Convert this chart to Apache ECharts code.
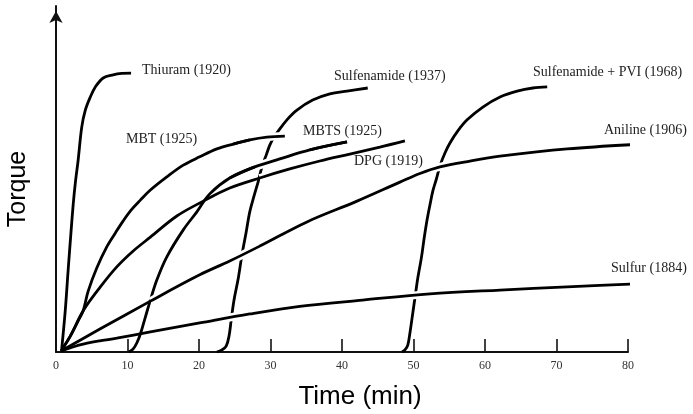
<!DOCTYPE html>
<html>
<head>
<meta charset="utf-8">
<script src="https://cdn.jsdelivr.net/npm/echarts/dist/echarts.min.js"></script>
<style>
  html, body { margin: 0; padding: 0; background: #fff; }
  #chart { width: 693px; height: 414px; }
</style>
</head>
<body>
<div id="chart"></div>
<script>
// Cure curves: [time (min), torque (relative units)]
const sulfur = [[0.7,0.3],[3.8,2.3],[8.5,4.0],[13.2,5.8],[20.1,8.4],[27.1,11.0],[34.1,13.2],[42.9,15.0],[52.3,16.8],[62.1,17.9],[71.5,18.8],[83.1,19.9]];
const aniline = [[0.7,0.3],[6.2,6.7],[13.2,14.7],[20.1,22.3],[24.3,26.3],[28.5,30.6],[35.1,37.6],[42.1,43.6],[48.1,49.1],[50.9,51.6],[53.7,53.5],[57.9,55.2],[62.1,56.6],[71.5,58.7],[82.1,60.1]];
const dpg = [[0.7,0.3],[2.0,4.6],[3.8,11.9],[6.2,18.8],[8.5,24.6],[10.8,29.2],[13.2,33.2],[16.9,39.3],[20.6,43.6],[24.3,47.4],[28.5,50.3],[32.7,52.9],[36.9,55.2],[41.1,57.2],[45.3,59.2],[48.8,61.0]];
const thiuram = [[0.8,0.9],[1.3,12.1],[1.7,23.7],[2.1,34.7],[2.4,42.5],[2.7,48.8],[3.1,55.5],[3.6,65.0],[4.1,69.9],[4.8,73.7],[5.5,76.6],[6.6,79.2],[8.0,80.1],[9.2,80.5],[10.5,80.6]];
const mbt = [[0.7,0.3],[2.0,4.6],[3.1,9.0],[3.8,11.9],[4.5,17.6],[5.7,24.3],[7.1,30.4],[8.3,34.4],[9.4,37.9],[10.5,41.0],[11.8,43.9],[13.2,46.8],[15.5,50.6],[17.8,54.0],[20.1,56.4],[22.5,58.7],[24.8,60.1],[27.1,61.3],[29.5,62.1],[32.0,62.4]];
const mbts = [[10.2,0],[10.8,0.9],[11.3,2.6],[11.8,5.2],[12.5,10.1],[13.2,15.0],[14.1,20.8],[15.5,27.5],[17.8,35.3],[19.7,40.5],[21.5,45.7],[24.3,50.3],[27.8,53.5],[31.3,55.8],[35.5,58.4],[40.7,60.7]];
const sulfenamide = [[22.5,0],[23.2,0.6],[23.8,1.7],[24.2,4.6],[24.5,9.2],[24.9,15.0],[25.5,21.4],[26.0,28.0],[26.6,34.7],[27.1,40.5],[27.7,45.1],[28.3,49.4],[28.8,53.5],[29.4,56.9],[29.9,59.8],[30.5,62.1],[31.1,63.9],[32.3,67.1],[33.7,69.9],[35.9,72.8],[38.3,74.6],[40.7,75.4],[43.6,76.3]];
const sulfenamidePvi = [[48.4,0],[48.8,0.6],[49.2,2.0],[49.5,5.5],[49.8,9.8],[50.2,15.6],[50.6,21.4],[51.1,27.2],[51.5,33.0],[51.9,38.2],[52.3,42.5],[52.7,46.5],[53.2,50.0],[53.7,53.8],[54.4,57.5],[55.1,60.4],[56.2,63.9],[57.5,67.1],[59.7,70.8],[62.1,73.7],[64.5,75.4],[66.7,76.3],[68.7,76.6]];

// Curve labels
const curveLabels = ['Thiuram (1920)', 'MBT (1925)', 'Sulfenamide (1937)', 'MBTS (1925)', 'DPG (1919)', 'Sulfenamide + PVI (1968)', 'Aniline (1906)', 'Sulfur (1884)'];
const xTitle = 'Time (min)';
const yTitle = 'Torque';

const chart = echarts.init(document.getElementById('chart'), null, { renderer: 'canvas' });

const INK = '#000';
const LINE_W = 2.8;

function curve(name, data, z) {
  return {
    name, type: 'line', data, z, smooth: 0.35, showSymbol: false, symbol: 'none',
    clip: false, silent: true, animation: false,
    lineStyle: { color: INK, width: LINE_W }
  };
}
// white casing so that flatter curves appear to pass over the steep ones
function casing(data, from, to, z) {
  return {
    type: 'line', data: data.filter(p => p[0] >= from && p[0] <= to), z,
    smooth: 0.35, showSymbol: false, symbol: 'none', clip: false, silent: true, animation: false,
    lineStyle: { color: '#fff', width: 8 }
  };
}

const labelFont = { fontFamily: 'Liberation Serif', fontSize: 14, fill: '#222' };
function label(text, x, y) {
  return { type: 'text', left: x, top: y - 8, style: Object.assign({ text }, labelFont), silent: true, z: 10 };
}

chart.setOption({
  animation: false,
  backgroundColor: '#fff',
  grid: { left: 56, right: 65, top: 6, bottom: 62 },
  xAxis: {
    type: 'value', min: 0, max: 80, interval: 10,
    axisLine: { show: true, lineStyle: { color: '#111', width: 2 } },
    axisTick: { show: true, inside: true, length: 13, lineStyle: { color: '#111', width: 1.6 } },
    axisLabel: { fontFamily: 'Liberation Serif', fontSize: 12, color: '#333', margin: 8 },
    splitLine: { show: false }
  },
  yAxis: {
    type: 'value', min: 0, max: 100,
    axisLine: { show: true, symbol: ['none', 'arrow'], symbolSize: [10, 12], symbolOffset: [0, -5],
      lineStyle: { color: '#111', width: 2 } },
    axisTick: { show: false }, axisLabel: { show: false }, splitLine: { show: false }
  },
  series: [
    curve('Thiuram', thiuram, 2),
    curve('MBT', mbt, 2),
    curve('MBTS', mbts, 2),
    curve('Sulfenamide', sulfenamide, 2),
    curve('Sulfenamide + PVI', sulfenamidePvi, 2),
    casing(sulfur, 9, 60, 3),
    casing(aniline, 11, 60, 3),
    casing(dpg, 25, 36, 3),
    casing(mbts, 25, 36, 3),
    casing(mbt, 26, 33, 3),
    curve('Sulfur', sulfur, 4),
    curve('Aniline', aniline, 4),
    curve('DPG', dpg, 4),
    Object.assign(curve('MBTS top', mbts.filter(p => p[0] >= 24), 4)),
    Object.assign(curve('MBT top', mbt.filter(p => p[0] >= 24), 4))
  ],
  graphic: [
    label(curveLabels[0], 142, 71),
    label(curveLabels[1], 126, 140),
    label(curveLabels[2], 334, 77),
    label(curveLabels[3], 303, 132),
    label(curveLabels[4], 354, 162),
    label(curveLabels[5], 533, 73),
    label(curveLabels[6], 604, 131),
    label(curveLabels[7], 611, 269),
    { type: 'text', x: 360, y: 397, silent: true,
      style: { text: xTitle, fontFamily: 'Liberation Sans', fontSize: 26, fill: '#000', align: 'center', verticalAlign: 'middle' } },
    { type: 'text', x: 18, y: 189, rotation: Math.PI / 2, silent: true,
      style: { text: yTitle, fontFamily: 'Liberation Sans', fontSize: 25, fill: '#000', align: 'center', verticalAlign: 'middle' } }
  ]
});
</script>
</body>
</html>
